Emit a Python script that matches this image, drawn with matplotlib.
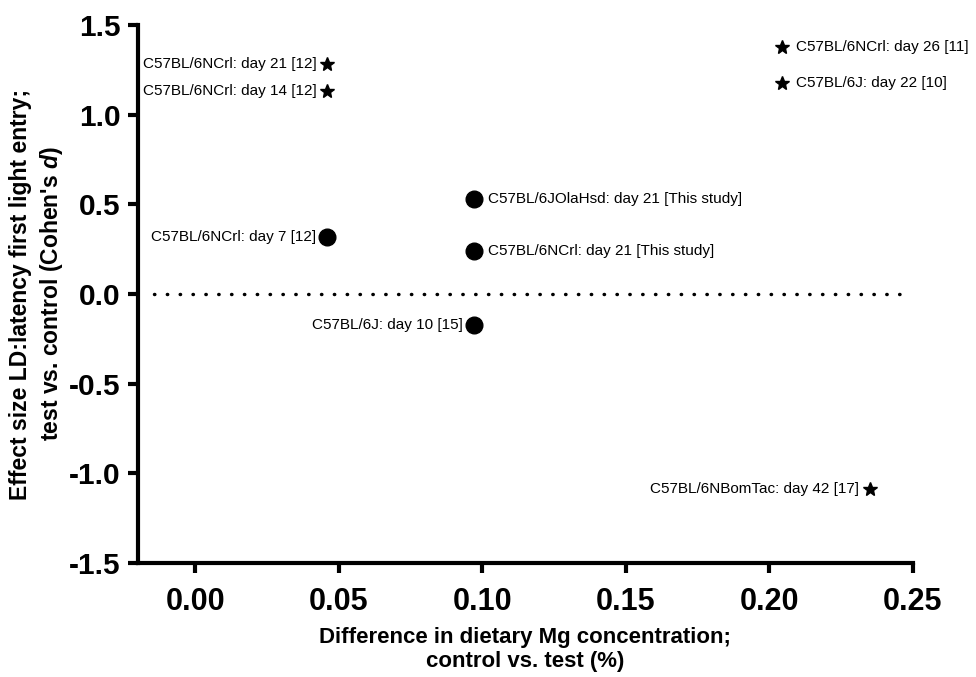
import matplotlib
matplotlib.use("Agg")
import matplotlib.pyplot as plt

# data
mg_diff = [0.046, 0.046, 0.046, 0.097, 0.097, 0.097, 0.2045, 0.2045, 0.235]
effect = [1.285, 1.13, 0.32, 0.53, 0.24, -0.17, 1.38, 1.175, -1.085]
labels = [
    "C57BL/6NCrl: day 21 [12]",
    "C57BL/6NCrl: day 14 [12]",
    "C57BL/6NCrl: day 7 [12]",
    "C57BL/6JOlaHsd: day 21 [This study]",
    "C57BL/6NCrl: day 21 [This study]",
    "C57BL/6J: day 10 [15]",
    "C57BL/6NCrl: day 26 [11]",
    "C57BL/6J: day 22 [10]",
    "C57BL/6NBomTac: day 42 [17]",
]
markers = ["*", "*", "o", "o", "o", "o", "*", "*", "*"]
label_side = ["left", "left", "left", "right", "right", "left", "right", "right", "left"]

x_ticks = [0.00, 0.05, 0.10, 0.15, 0.20, 0.25]
y_ticks = [-1.5, -1.0, -0.5, 0.0, 0.5, 1.0, 1.5]

plt.rcParams['font.family'] = ['Liberation Sans', 'DejaVu Sans']
plt.rcParams['axes.unicode_minus'] = False
plt.rcParams['mathtext.fontset'] = 'custom'
plt.rcParams['mathtext.it'] = 'Liberation Sans:italic:bold'

fig = plt.figure(figsize=(9.76, 6.77), dpi=100)
ax = fig.add_axes([0.1414, 0.1684, 0.7940, 0.7946])

# reference line at zero
ax.axhline(0, xmin=0.02, xmax=0.995, color='black', linestyle=(0, (0.1, 3.6)),
           linewidth=2.5, dash_capstyle='round')

for x, y, m, lab, side in zip(mg_diff, effect, markers, labels, label_side):
    size = 10.5 if m == "*" else 12
    ax.plot(x, y, marker=m, color='black', markersize=size, linestyle='none')
    off = 10 if side == "right" else -8
    ha = "left" if side == "right" else "right"
    ax.annotate(lab, (x, y), xytext=(off, 0), textcoords='offset points',
                ha=ha, va='center', fontsize=11)

ax.set_xlim(-0.02, 0.25)
ax.set_ylim(-1.5, 1.5)
ax.set_xticks(x_ticks)
ax.set_xticklabels([f"{v:.2f}" for v in x_ticks])
ax.set_yticks(y_ticks)
ax.set_yticklabels([f"{v:.1f}" for v in y_ticks])

for s in ['top', 'right']:
    ax.spines[s].set_visible(False)
for s in ['left', 'bottom']:
    ax.spines[s].set_linewidth(3)
ax.tick_params(axis='both', width=3, length=7.5)
ax.tick_params(axis='x', pad=10, labelsize=22)
ax.tick_params(axis='y', pad=5, labelsize=21.5)
for t in ax.get_xticklabels() + ax.get_yticklabels():
    t.set_fontweight('bold')

ax.set_xlabel("Difference in dietary Mg concentration;\ncontrol vs. test (%)",
              fontsize=16, fontweight='bold', labelpad=7, linespacing=1.2)
ax.set_ylabel("Effect size LD:latency first light entry;\ntest vs. control (Cohen's $d$)",
              fontsize=16.5, fontweight='bold', labelpad=3, linespacing=1.3)

fig.savefig("out.png", dpi=100)
